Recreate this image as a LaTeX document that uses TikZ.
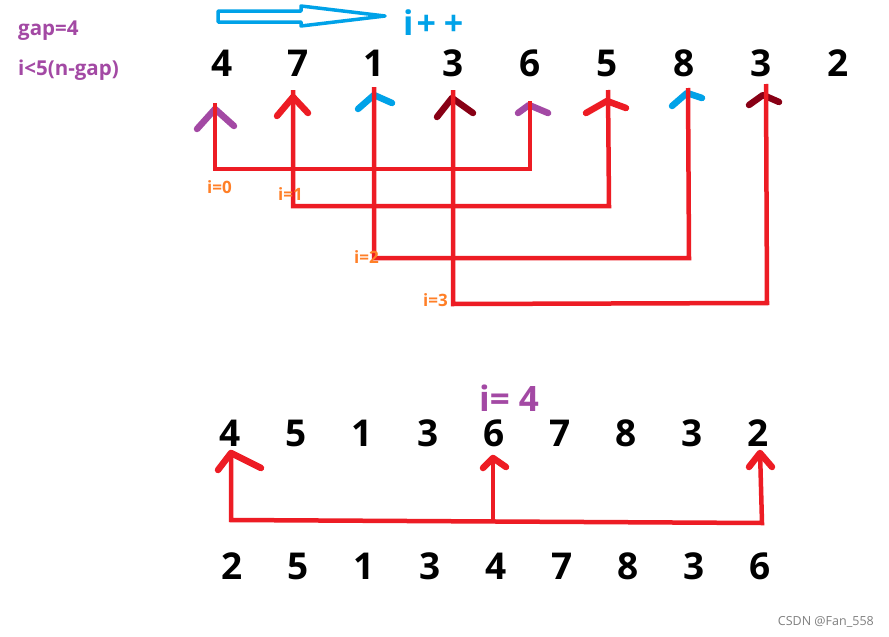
\documentclass[tikz,border=0pt]{standalone}
\usepackage{fontspec}
\setmainfont{Open Sans}
\definecolor{cred}{HTML}{ED1C24}
\definecolor{cpurple}{HTML}{A349A4}
\definecolor{cblue}{HTML}{00A2E8}
\definecolor{cdark}{HTML}{880015}
\definecolor{corange}{HTML}{FF7F27}
\begin{document}
\begin{tikzpicture}[x=1pt,y=-1pt,
  num/.style={font=\bfseries\fontsize{37}{40}\selectfont, inner sep=0pt, anchor=base},
  lbl/.style={font=\bfseries\fontsize{20.5}{22}\selectfont, text=cpurple, inner sep=0pt, anchor=base west},
  ilbl/.style={font=\bfseries\fontsize{17}{19}\selectfont, text=corange, inner sep=0pt, anchor=base west},
  redline/.style={draw=cred, line width=4.5pt, line join=miter},
  chev/.style={line width=6.5pt, line cap=round, line join=round}]
\useasboundingbox[fill=white] (0,0) rectangle (889,637);

% texts top-left
\node[lbl] (gap) at (18,35) {gap=4};
\node[lbl] (cond) at (18,75) {i<5(n-gap)};

% blue hollow arrow
\draw[cblue, line width=3.5pt, line join=round] (218,11) -- (301,11) -- (301,6) -- (385,16) -- (301,26) -- (301,22) -- (218,22) -- cycle;
\node[font=\bfseries\fontsize{34}{36}\selectfont, text=cblue, inner sep=0pt, anchor=base west] (ipp) at (403,35) {i\kern3pt+\kern8pt+};

% top row
\foreach \v/\x [count=\i] in {4/222,7/298,1/374,3/453,6/530,5/607,8/684,3/761,2/838}
  \node[num] (t\i) at (\x,76) {\v};

% top chevrons (arrowheads)
\draw[chev,cpurple] (197,129) -- (215,109) -- (234,126);
\draw[chev,cred] (277,116) -- (293,97) -- (308,113);
\draw[chev,cblue] (358,109) -- (374,95) -- (392,103);
\draw[chev,cdark] (437,117) -- (452,98) -- (473,113);
\draw[chev,cpurple] (518,113) -- (529,105) -- (548,113);
\draw[chev,cred] (586,113) -- (607,101) -- (626,108);
\draw[chev,cblue] (672,106) -- (687,93) -- (702,98);
\draw[chev,cdark] (749,105) -- (763,95) -- (779,102);

% tips and corners
\coordinate (a1) at (215,103);
\coordinate (a2) at (293,90);
\coordinate (a3) at (374,87);
\coordinate (a4) at (453,90);
\coordinate (a5) at (530,101);
\coordinate (a6) at (608,90);
\coordinate (a7) at (688,88);
\coordinate (a8) at (766,84);
\coordinate (c0l) at (215,169); \coordinate (c0r) at (530,169);
\coordinate (c1l) at (293,206); \coordinate (c1r) at (609,206);
\coordinate (c2l) at (374,258); \coordinate (c2r) at (689,258);
\coordinate (c3l) at (453,304); \coordinate (c3r) at (767,303);

\draw[redline] (a1) -- (c0l) -- (c0r) -- (a5);
\draw[redline] (a2) -- (c1l) -- (c1r) -- (a6);
\draw[redline] (a3) -- (c2l) -- (c2r) -- (a7);
\draw[redline] (a4) -- (c3l) -- (c3r) -- (a8);

% index labels
\node[ilbl] (i0) at (207,193) {i=0};
\node[ilbl] (i1) at (278,200) {i=1};
\node[ilbl] (i2) at (354,263) {i=2};
\node[ilbl] (i3) at (423,306) {i=3};

% bottom section
\node[font=\bfseries\fontsize{35}{37}\selectfont, text=cpurple, inner sep=0pt, anchor=base west] (i4) at (479,411) {i=\kern9pt4};

\foreach \v/\x [count=\i] in {4/230,5/296,1/362,3/428,6/494,7/560,8/626,3/692,2/758}
  \node[num] (m\i) at (\x,446) {\v};
\foreach \v/\x [count=\i] in {2/232,5/298,1/364,3/430,4/496,7/562,8/628,3/694,6/760}
  \node[num] (b\i) at (\x,579) {\v};

\draw[chev,cred] (218,470) -- (231,453) -- (261,468);
\draw[chev,cred] (483,468) -- (493,458) -- (506,467);
\draw[chev,cred] (749,467) -- (760,453) -- (772,467);

\coordinate (d1) at (231,451);
\coordinate (d2) at (493,457);
\coordinate (d3) at (760,451);
\coordinate (e1) at (231,520);
\coordinate (e2) at (493,522);
\coordinate (e3) at (762,523);
\draw[redline] (d1) -- (e1) -- (e3) -- (d3);
\draw[redline] (d2) -- (e2);

\node[font=\fontsize{12.5}{14}\selectfont, text=gray, inner sep=0pt, anchor=base east] (wm) at (874,625) {CSDN @Fan\_558};
\end{tikzpicture}
\end{document}
